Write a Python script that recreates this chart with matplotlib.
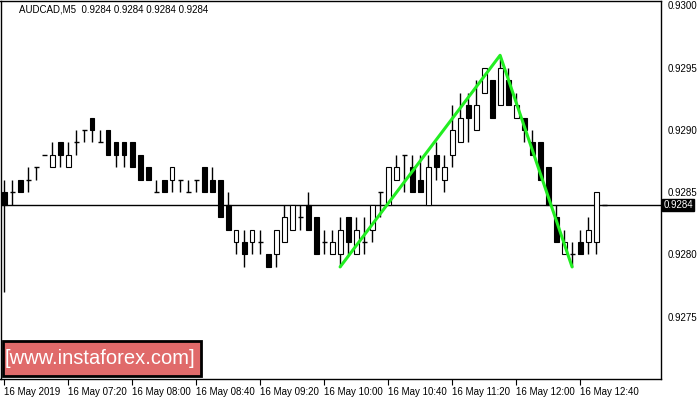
import numpy as np
import matplotlib
matplotlib.use('Agg')
import matplotlib.pyplot as plt
from matplotlib.patches import Rectangle
from matplotlib import font_manager

# ==============================
# Data (AUDCAD M5, prices)
# ==============================

opens = [0.9285, 0.9285, 0.9286, 0.9286, 0.9287, 0.9288, 0.9287, 0.9289, 0.9287, 0.9289,
         0.9290, 0.9291, 0.9289, 0.9290, 0.9289, 0.9289, 0.9289, 0.9288, 0.9287, 0.9285,
         0.9286, 0.9286, 0.9286, 0.9285, 0.9286, 0.9287, 0.9286, 0.9286, 0.9284, 0.9281,
         0.9281, 0.9281, 0.9281, 0.9280, 0.9280, 0.9281, 0.9282, 0.9283, 0.9284, 0.9283,
         0.9281, 0.9280, 0.9280, 0.9283, 0.9280, 0.9281, 0.9282, 0.9285, 0.9284, 0.9286,
         0.9288, 0.9287, 0.9286, 0.9284, 0.9288, 0.9286, 0.9288, 0.9289, 0.9292, 0.9290,
         0.9293, 0.9294, 0.9292, 0.9294, 0.9291, 0.9291, 0.9289, 0.9289, 0.9287, 0.9283,
         0.9280, 0.9280, 0.9281, 0.9281, 0.9281, 0.9284]
highs = [0.9286, 0.9286, 0.9286, 0.9287, 0.9287, 0.9288, 0.9289, 0.9289, 0.9289, 0.9290,
         0.9290, 0.9291, 0.9290, 0.9290, 0.9289, 0.9289, 0.9289, 0.9288, 0.9287, 0.9286,
         0.9286, 0.9287, 0.9286, 0.9286, 0.9286, 0.9287, 0.9287, 0.9286, 0.9285, 0.9282,
         0.9282, 0.9282, 0.9282, 0.9280, 0.9282, 0.9284, 0.9284, 0.9284, 0.9285, 0.9283,
         0.9282, 0.9282, 0.9283, 0.9283, 0.9283, 0.9283, 0.9284, 0.9285, 0.9287, 0.9288,
         0.9288, 0.9288, 0.9288, 0.9288, 0.9289, 0.9288, 0.9292, 0.9293, 0.9293, 0.9294,
         0.9295, 0.9294, 0.9296, 0.9295, 0.9293, 0.9291, 0.9290, 0.9289, 0.9287, 0.9284,
         0.9282, 0.9281, 0.9282, 0.9283, 0.9285, 0.9284]
lows = [0.9277, 0.9284, 0.9285, 0.9285, 0.9286, 0.9288, 0.9287, 0.9287, 0.9287, 0.9288,
        0.9289, 0.9289, 0.9289, 0.9288, 0.9287, 0.9287, 0.9287, 0.9286, 0.9286, 0.9285,
        0.9285, 0.9285, 0.9285, 0.9285, 0.9285, 0.9285, 0.9285, 0.9283, 0.9282, 0.9280,
        0.9279, 0.9280, 0.9280, 0.9279, 0.9279, 0.9281, 0.9282, 0.9282, 0.9282, 0.9280,
        0.9280, 0.9280, 0.9279, 0.9280, 0.9280, 0.9280, 0.9281, 0.9283, 0.9284, 0.9286,
        0.9285, 0.9285, 0.9285, 0.9284, 0.9286, 0.9285, 0.9287, 0.9289, 0.9289, 0.9290,
        0.9293, 0.9291, 0.9292, 0.9292, 0.9291, 0.9289, 0.9288, 0.9286, 0.9284, 0.9281,
        0.9280, 0.9279, 0.9280, 0.9280, 0.9280, 0.9284]
closes = [0.9284, 0.9285, 0.9285, 0.9286, 0.9287, 0.9288, 0.9288, 0.9288, 0.9288, 0.9289,
          0.9290, 0.9290, 0.9289, 0.9288, 0.9288, 0.9288, 0.9287, 0.9286, 0.9286, 0.9285,
          0.9285, 0.9287, 0.9286, 0.9285, 0.9286, 0.9285, 0.9285, 0.9283, 0.9282, 0.9282,
          0.9280, 0.9282, 0.9281, 0.9279, 0.9282, 0.9283, 0.9284, 0.9283, 0.9282, 0.9280,
          0.9281, 0.9281, 0.9282, 0.9281, 0.9282, 0.9281, 0.9284, 0.9285, 0.9287, 0.9287,
          0.9288, 0.9285, 0.9285, 0.9287, 0.9287, 0.9287, 0.9290, 0.9291, 0.9291, 0.9292,
          0.9295, 0.9291, 0.9295, 0.9292, 0.9292, 0.9290, 0.9288, 0.9286, 0.9284, 0.9281,
          0.9281, 0.9280, 0.9280, 0.9282, 0.9285, 0.9284]

# pattern line (bar index, price)
pattern_bars = [42, 62, 71]
pattern_prices = [0.9279, 0.9296, 0.9279]

current_price = 0.9284
price_ticks = [0.9275, 0.9280, 0.9285, 0.9290, 0.9295, 0.9300]
time_tick_bars = [0, 8, 16, 24, 32, 40, 48, 56, 64, 72]
time_labels = ['16 May 2019', '16 May 07:20', '16 May 08:00', '16 May 08:40', '16 May 09:20',
               '16 May 10:00', '16 May 10:40', '16 May 11:20', '16 May 12:00', '16 May 12:40']
title_text = 'AUDCAD,M5  0.9284 0.9284 0.9284 0.9284'
logo_text = '[www.instaforex.com]'

# ==============================
# Figure
# ==============================

font = 'Liberation Sans'
plt.rcParams['font.family'] = [font, 'DejaVu Sans']

fig = plt.figure(figsize=(7, 4), dpi=100)
fig.patch.set_facecolor('white')
ax = fig.add_axes([0.5 / 700, 21 / 400, 660 / 700, 378.5 / 400])

o = np.array(opens)
h = np.array(highs)
l = np.array(lows)
c = np.array(closes)
x = np.arange(len(o))
w = 0.6

# wicks
ax.vlines(x, l, h, color='black', lw=1, zorder=2)

# bodies
up = c > o
down = c < o
flat = c == o
ax.bar(x[down], (o - c)[down], bottom=c[down], width=w, color='black',
       edgecolor='black', lw=0.8, zorder=3)
ax.bar(x[up], (c - o)[up], bottom=o[up], width=w, color='white',
       edgecolor='black', lw=0.8, zorder=3)
ax.hlines(o[flat], x[flat] - w / 2, x[flat] + w / 2, color='black', lw=1, zorder=3)

# current price line
ax.axhline(current_price, color='black', lw=1, zorder=1)

# pattern
ax.plot(pattern_bars, pattern_prices, color='#22ee22', lw=2.2, zorder=4,
        solid_capstyle='round')

ax.set_xlim(-0.45, 82.05)
ax.set_ylim(0.92700, 0.93004)

ax.yaxis.tick_right()
ax.set_yticks(price_ticks)
ax.set_yticklabels(['%.4f' % p for p in price_ticks])
ax.tick_params(axis='y', length=0, pad=5, labelsize=7, colors='black')

ax.set_xticks(time_tick_bars)
ax.set_xticklabels(time_labels)
ax.tick_params(axis='x', length=4, pad=2, labelsize=7, direction='out')
plt.setp(ax.get_xticklabels(), ha='left')

for sp in ax.spines.values():
    sp.set_color('black')
    sp.set_linewidth(1)

# price tag on the right axis
ax.annotate('%.4f' % current_price, xy=(1.0, current_price),
            xycoords=('axes fraction', 'data'), xytext=(2, 0),
            textcoords='offset points', va='center', ha='left', fontsize=7,
            color='white', annotation_clip=False,
            bbox=dict(boxstyle='square,pad=0.12', fc='black', ec='black'))

# title
fig.text(19 / 700, 1 - 10 / 400, title_text, fontsize=7, va='center', ha='left')

# logo
fig.add_artist(Rectangle((3 / 700, 1 - 376 / 400), 198 / 700, 35 / 400,
                         transform=fig.transFigure, fc='#e06a6a', ec='black', lw=2,
                         zorder=10))
names = {f.name for f in font_manager.fontManager.ttflist}
if 'Liberation Sans Narrow' in names:
    logo_font, logo_size = 'Liberation Sans Narrow', 17
else:
    logo_font, logo_size = 'Liberation Sans', 14.5
fig.text(100 / 700, 1 - 358 / 400, logo_text, fontsize=logo_size, family=logo_font,
         color='white', ha='center', va='center', zorder=11)

fig.savefig('out.png', dpi=100)
